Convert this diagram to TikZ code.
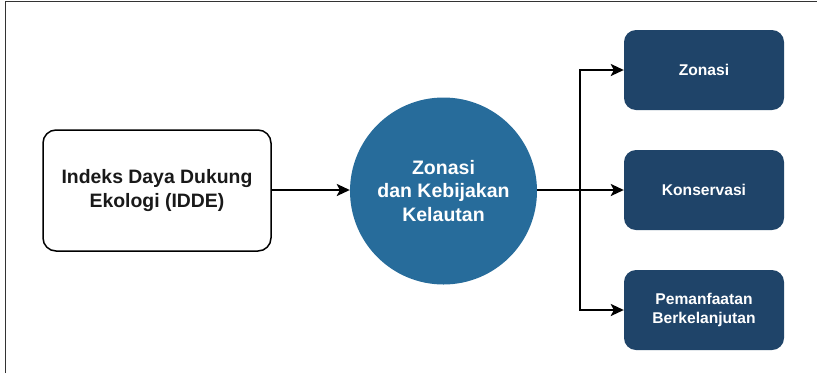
\documentclass[tikz,border=0pt]{standalone}
\usepackage{fontspec}
\setmainfont{Liberation Sans}
\usetikzlibrary{arrows.meta}
\definecolor{circblue}{RGB}{39,108,155}
\definecolor{navy}{RGB}{31,68,105}
\definecolor{framegray}{RGB}{51,51,51}
\begin{document}
\begin{tikzpicture}[x=1pt,y=-1pt,
  whitebox/.style={draw=black,line width=1.5pt,fill=white,rounded corners=13pt,
    minimum width=228pt,minimum height=121pt,align=center,inner sep=0pt,
    font=\fontsize{19.4}{23.3}\selectfont\bfseries,text=black!90},
  hub/.style={circle,fill=circblue,minimum size=187pt,inner sep=0pt,align=center,
    font=\fontsize{19.5}{23.5}\selectfont\bfseries,text=white},
  target/.style={fill=navy,rounded corners=12pt,minimum width=160pt,minimum height=80pt,
    inner sep=0pt,align=center,font=\fontsize{15.6}{19.4}\selectfont\bfseries,text=white},
  link/.style={line width=2pt,-{Stealth[length=13pt,width=12pt,inset=3pt]}},
  wire/.style={line width=2pt}]
\useasboundingbox (0,0) rectangle (817,373);
% frame edges
\draw[framegray,line width=1.5pt] (5.5,373) -- (5.5,1.5) -- (817,1.5);
% nodes
\node[whitebox] (idde) at (157,190.5) {Indeks Daya Dukung\\Ekologi (IDDE)};
\node[hub] (zkk) at (443.5,191) {Zonasi\\dan Kebijakan\\Kelautan};
\node[target] (zon) at (704,70) {Zonasi};
\node[target] (kon) at (704,190) {Konservasi};
\node[target] (pem) at (704,310) {Pemanfaatan\\Berkelanjutan};
\coordinate (split) at (580,190);
% connectors
\draw[link] (idde.east |- 0,190) -- (zkk.west |- 0,190);
\draw[wire] (zkk.east |- 0,190) -- (split);
\draw[link] (split) |- (zon.west);
\draw[link] (split) -- (kon.west);
\draw[link] (split) |- (pem.west);
\end{tikzpicture}
\end{document}
